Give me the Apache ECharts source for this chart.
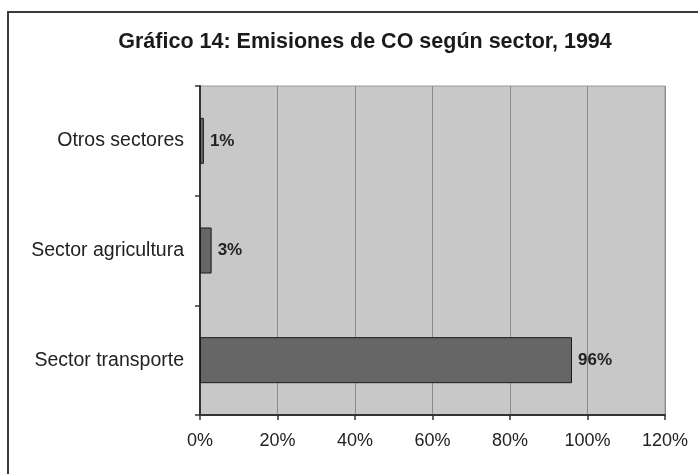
<!DOCTYPE html>
<html>
<head>
<meta charset="utf-8">
<script src="https://cdn.jsdelivr.net/npm/echarts@6/dist/echarts.min.js"></script>
<style>
html,body{margin:0;padding:0;background:#fff;}
#chart{width:698px;height:474px;}
</style>
</head>
<body>
<div id="chart"></div>
<script>
var categories = ['Sector transporte', 'Sector agricultura', 'Otros sectores'];
var values = [96, 3, 1];
var xTicks = [0, 20, 40, 60, 80, 100, 120];
var titleText = 'Gráfico 14: Emisiones de CO según sector, 1994';

var chart = echarts.init(document.getElementById('chart'));
chart.setOption({
  backgroundColor: '#ffffff',
  animation: false,
  graphic: [{
    type: 'rect',
    shape: { x: 8, y: 12, width: 720, height: 500 },
    style: { fill: 'none', stroke: '#3a3a3a', lineWidth: 2 },
    silent: true
  }],
  title: {
    text: titleText,
    left: 360,
    textAlign: 'center',
    top: 26,
    textStyle: { fontFamily: 'Liberation Sans', fontSize: 21.5, fontWeight: 'bold', color: '#1a1a1a' }
  },
  grid: {
    left: 200, right: 33, top: 86, bottom: 59,
    show: true, backgroundColor: '#c8c8c8', borderColor: '#9a9a9a', borderWidth: 1
  },
  xAxis: {
    type: 'value',
    min: xTicks[0],
    max: xTicks[xTicks.length - 1],
    interval: 20,
    axisLine: { show: true, lineStyle: { color: '#333', width: 2 } },
    axisTick: { show: true, inside: false, length: 5, lineStyle: { color: '#333', width: 1.5 } },
    splitLine: { show: true, lineStyle: { color: '#8a8a8a', width: 1 } },
    axisLabel: { formatter: '{value}%', margin: 17, fontFamily: 'Liberation Sans', fontSize: 18, color: '#222' }
  },
  yAxis: {
    type: 'category',
    data: categories,
    axisLine: { show: true, lineStyle: { color: '#333', width: 2 } },
    axisTick: { show: true, inside: false, length: 5, lineStyle: { color: '#333', width: 1.5 } },
    axisLabel: { margin: 16, fontFamily: 'Liberation Sans', fontSize: 19.5, color: '#222' },
    splitLine: { show: false }
  },
  series: [{
    type: 'bar',
    data: values,
    barWidth: 46,
    itemStyle: { color: '#666666', borderColor: '#1a1a1a', borderWidth: 1 },
    label: {
      show: true, position: 'right', distance: 6,
      formatter: '{c}%',
      fontFamily: 'Liberation Sans', fontSize: 17, fontWeight: 'bold', color: '#222'
    }
  }]
});
</script>
</body>
</html>
